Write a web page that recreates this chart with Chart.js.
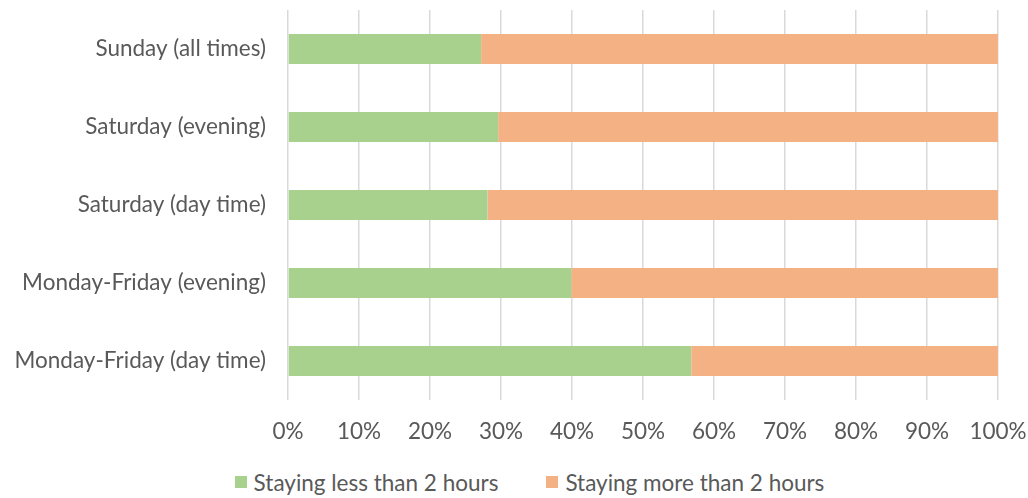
<!DOCTYPE html>
<html>
<head>
<meta charset="utf-8">
<script src="https://cdn.jsdelivr.net/npm/chart.js@4.4.1/dist/chart.umd.min.js"></script>
<style>
  body { margin: 0; background: #fff; }
  .wrap { width: 1028px; height: 462px; position: relative; }
  .legend {
    width: 1028px; height: 36px; box-sizing: border-box;
    padding-left: 31px; padding-top: 4px;
    display: flex; justify-content: center; align-items: center;
    font-family: Lato, sans-serif; font-size: 22.5px; color: #595959;
  }
  .legend .item { display: flex; align-items: center; margin: 0 24px; }
  .legend .box { width: 12px; height: 12px; margin-right: 7px; }
</style>
</head>
<body>
<div class="wrap"><canvas id="barChart"></canvas></div>
<div class="legend" id="legend"></div>
<script>
const categories = [
  'Sunday (all times)',
  'Saturday (evening)',
  'Saturday (day time)',
  'Monday-Friday (evening)',
  'Monday-Friday (day time)'
];
const lessThan2 = [27.2, 29.6, 28.1, 39.9, 56.8];
const moreThan2 = [72.8, 70.4, 71.9, 60.1, 43.2];
const seriesNames = ['Staying less than 2 hours', 'Staying more than 2 hours'];
const seriesColors = ['#a9d18e', '#f4b183'];

const textColor = '#595959';
const fontFamily = 'Lato, sans-serif';

const ctx = document.getElementById('barChart').getContext('2d');
const chart = new Chart(ctx, {
  type: 'bar',
  data: {
    labels: categories,
    datasets: [
      { label: seriesNames[0], data: lessThan2, backgroundColor: seriesColors[0] },
      { label: seriesNames[1], data: moreThan2, backgroundColor: seriesColors[1] }
    ]
  },
  options: {
    indexAxis: 'y',
    responsive: true,
    maintainAspectRatio: false,
    animation: false,
    layout: {
      padding: { top: 10, right: 30, left: 0, bottom: 0 }
    },
    datasets: {
      bar: { barPercentage: 0.385, categoryPercentage: 1 }
    },
    plugins: {
      legend: { display: false }, // leyenda en HTML abajo
      tooltip: { enabled: false }
    },
    scales: {
      x: {
        stacked: true,
        min: 0,
        max: 100,
        grid: {
          color: '#d9d9d9',
          lineWidth: 1.5,
          drawTicks: false
        },
        border: { display: false },
        ticks: {
          stepSize: 10,
          padding: 18,
          color: textColor,
          font: { family: fontFamily, size: 22.5 },
          callback: (v) => v + '%'
        },
        afterFit: (scale) => {
          scale.height = 62;
          scale.paddingLeft = 0;
          scale.paddingRight = 0;
        }
      },
      y: {
        stacked: true,
        grid: { display: false, drawTicks: false },
        border: { display: false },
        ticks: {
          padding: 22,
          color: textColor,
          font: { family: fontFamily, size: 22.5 }
        },
        afterFit: (scale) => {
          scale.width = 288;
          scale.paddingTop = 0;
          scale.paddingBottom = 0;
        }
      }
    }
  }
});

// leyenda
const legendEl = document.getElementById('legend');
seriesNames.forEach((name, i) => {
  const item = document.createElement('div');
  item.className = 'item';
  const box = document.createElement('span');
  box.className = 'box';
  box.style.background = seriesColors[i];
  const txt = document.createElement('span');
  txt.textContent = name;
  item.appendChild(box);
  item.appendChild(txt);
  legendEl.appendChild(item);
});
</script>
</body>
</html>
